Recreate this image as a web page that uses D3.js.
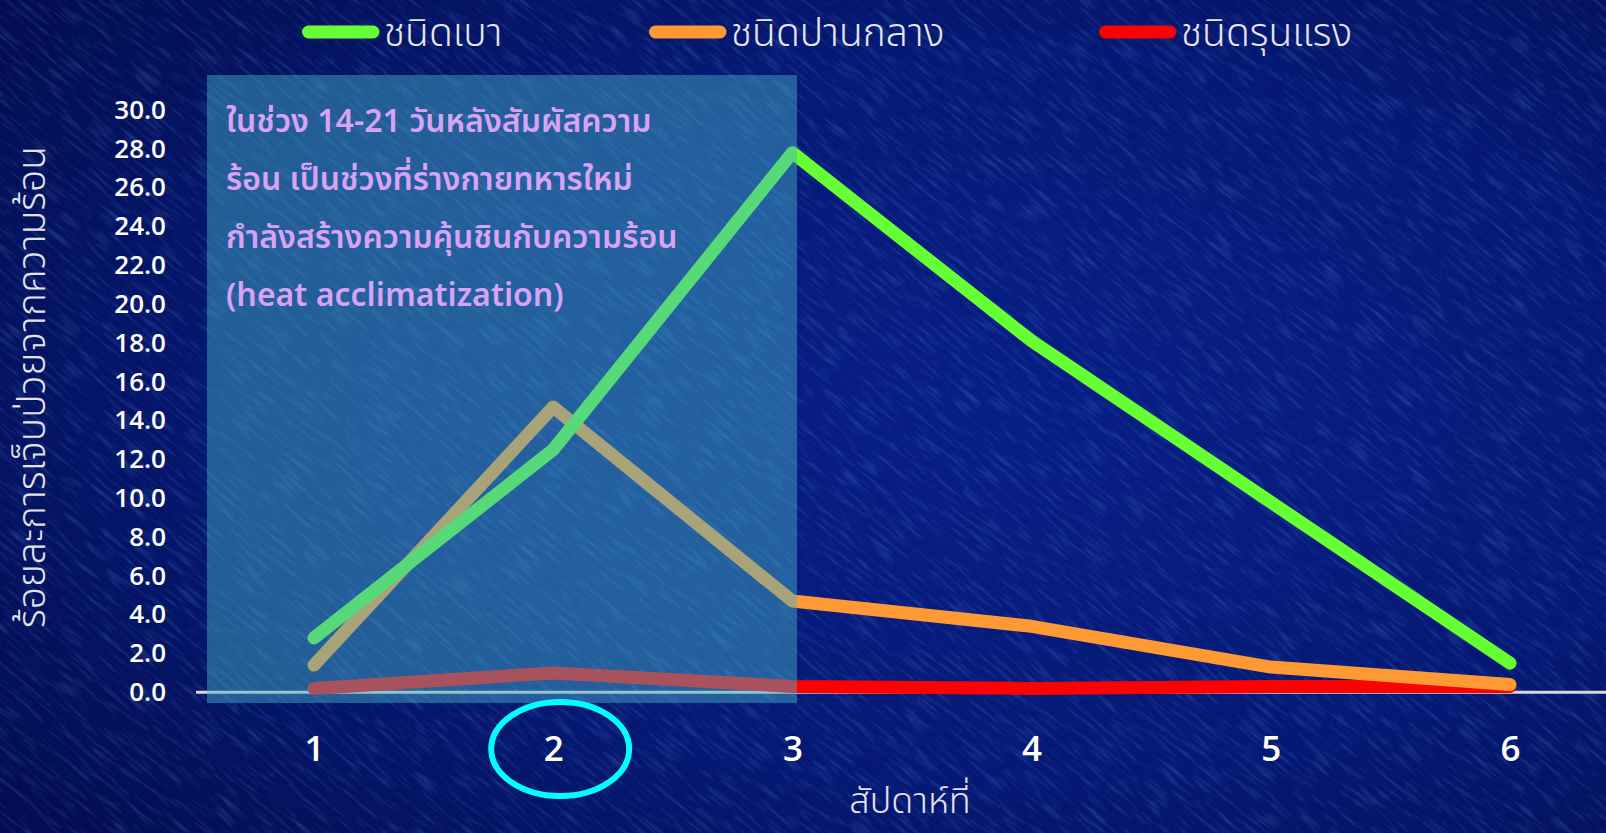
<!DOCTYPE html>
<html><head><meta charset="utf-8">
<script src="https://cdn.jsdelivr.net/npm/d3@7"></script>
<style>
html,body{margin:0;padding:0;background:#041470;overflow:hidden}
svg{display:block}
</style></head>
<body>
<svg id="chart" width="1606" height="833"></svg>
<script>
// ---- data ----
const weeks = [1, 2, 3, 4, 5, 6];
const mild = [2.8, 12.5, 27.8, 18.1, 9.8, 1.5];      // ชนิดเบา
const moderate = [1.4, 14.7, 4.7, 3.4, 1.3, 0.4];    // ชนิดปานกลาง
const severe = [0.2, 1.0, 0.3, 0.2, 0.3, 0.3];       // ชนิดรุนแรง
const seriesNames = ["ชนิดเบา", "ชนิดปานกลาง", "ชนิดรุนแรง"];
const seriesColors = ["#66ff33", "#ff9933", "#ff0000"];
const yTicks = [0, 2, 4, 6, 8, 10, 12, 14, 16, 18, 20, 22, 24, 26, 28, 30];
const yTitle = "ร้อยละการเจ็บป่วยจากความร้อน";
const xTitle = "สัปดาห์ที่";
const noteLines = [
  "ในช่วง 14-21 วันหลังสัมผัสความ",
  "ร้อน เป็นช่วงที่ร่างกายทหารใหม่",
  "กำลังสร้างความคุ้นชินกับความร้อน",
  "(heat acclimatization)"
];
const highlightWeek = 2;

const svg = d3.select("#chart");
const W = 1606, H = 833;
const thaiFont = "'Noto Sans Thai','Noto Sans Thai UI','Noto Sans','Open Sans',sans-serif";

// ---- background ----
const defs = svg.append("defs");
const bg = defs.append("radialGradient").attr("id", "bg").attr("cx", "62%").attr("cy", "50%").attr("r", "75%");
bg.append("stop").attr("offset", "0%").attr("stop-color", "#071e86");
bg.append("stop").attr("offset", "60%").attr("stop-color", "#051873");
bg.append("stop").attr("offset", "100%").attr("stop-color", "#030e52");
svg.append("rect").attr("width", W).attr("height", H).attr("fill", "url(#bg)");
const filt = defs.append("filter").attr("id", "tex").attr("x", 0).attr("y", 0).attr("width", "100%").attr("height", "100%");
filt.append("feTurbulence").attr("type", "fractalNoise").attr("baseFrequency", "0.03 0.25").attr("numOctaves", 3).attr("seed", 7);
filt.append("feColorMatrix").attr("type", "matrix")
  .attr("values", "0 0 0 0 0.2  0 0 0 0 0.45  0 0 0 0 1  0 0 0 1.6 -0.78");
svg.append("g").attr("transform", "rotate(40 803 416)")
  .append("rect").attr("x", -500).attr("y", -500).attr("width", W + 1000).attr("height", H + 1000)
  .attr("filter", "url(#tex)").attr("opacity", 0.3);

// ---- scales ----
const x = d3.scaleLinear().domain([1, 6]).range([314, 1510]);
const y = d3.scaleLinear().domain([0, 30]).range([692.3, 110]);

// ---- y axis ----
const yAxis = svg.append("g").attr("transform", "translate(166,0)")
  .call(d3.axisLeft(y).tickValues(yTicks).tickSize(0).tickPadding(0).tickFormat(d3.format(".1f")));
yAxis.select(".domain").remove();
yAxis.selectAll("text").attr("fill", "#ffffff").attr("font-family", "'Open Sans',sans-serif")
  .attr("font-weight", 600).attr("font-size", 26);

// ---- x axis ----
const xAxis = svg.append("g").attr("transform", "translate(0,692)")
  .call(d3.axisBottom(x).tickValues(weeks).tickSize(0).tickPadding(0).tickFormat(d3.format("d")));
xAxis.select(".domain").remove();
xAxis.selectAll("text").attr("fill", "#ffffff").attr("font-family", "'Open Sans',sans-serif")
  .attr("font-weight", 600).attr("font-size", 35).attr("dy", null).attr("y", 69);

// baseline
svg.append("line").attr("x1", 196).attr("x2", W).attr("y1", y(0)).attr("y2", y(0))
  .attr("stroke", "#d8d8d8").attr("stroke-width", 3);

// ---- lines ----
const allSeries = [mild, moderate, severe];
const line = d3.line().x((d, i) => x(weeks[i])).y(d => y(d)).curve(d3.curveLinear);
[2, 1, 0].forEach(k => {
  svg.append("path").datum(allSeries[k]).attr("d", line)
    .attr("fill", "none").attr("stroke", seriesColors[k]).attr("stroke-width", 13)
    .attr("stroke-linecap", "round").attr("stroke-linejoin", "round");
});

// ---- annotation box (over the lines) ----
svg.append("rect").attr("x", 207).attr("y", 75).attr("width", 590).attr("height", 628)
  .attr("fill", "rgb(70,174,200)").attr("fill-opacity", 0.47);

const note = svg.append("g");
noteLines.forEach((t, i) => {
  note.append("text").attr("x", 226).attr("y", 121 + i * 57.9).attr("dy", "0.35em")
    .attr("fill", "#d9a3f5").attr("font-family", thaiFont).attr("font-weight", 600)
    .attr("font-size", 32).text(t);
});

// ---- highlight ellipse ----
svg.append("ellipse").attr("cx", x(highlightWeek) + 7).attr("cy", 749).attr("rx", 69).attr("ry", 47)
  .attr("fill", "none").attr("stroke", "#00ffff").attr("stroke-width", 6);

// ---- axis titles ----
svg.append("text").attr("transform", "translate(31,387) rotate(-90)").attr("text-anchor", "middle")
  .attr("dy", "0.35em").attr("fill", "#e2e2ea").attr("font-family", thaiFont).attr("font-weight", 300)
  .attr("font-size", 39).text(yTitle);
svg.append("text").attr("x", 910).attr("y", 800).attr("text-anchor", "middle").attr("dy", "0.35em")
  .attr("fill", "#e2e2ea").attr("font-family", thaiFont).attr("font-weight", 300)
  .attr("font-size", 36).text(xTitle);

// ---- legend ----
const legendX = [302, 649, 1099];
const leg = svg.append("g");
seriesNames.forEach((n, i) => {
  leg.append("line").attr("x1", legendX[i] + 6.5).attr("x2", legendX[i] + 71).attr("y1", 32).attr("y2", 32)
    .attr("stroke", seriesColors[i]).attr("stroke-width", 13).attr("stroke-linecap", "round");
  leg.append("text").attr("x", legendX[i] + 82).attr("y", 32).attr("dy", "0.35em")
    .attr("fill", "#e6e6ee").attr("font-family", thaiFont).attr("font-weight", 300)
    .attr("font-size", 39).text(n);
});
</script>
</body></html>
